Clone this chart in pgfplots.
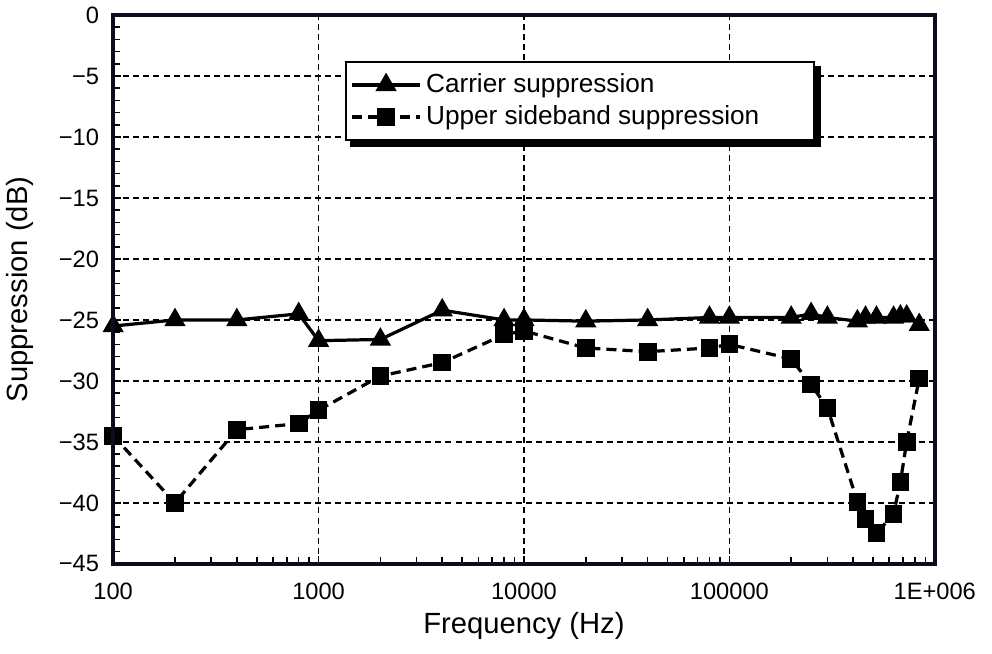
\documentclass[border=0pt]{standalone}
\usepackage{pgfplots}
\pgfplotsset{compat=1.18}
\usepackage{fontspec}
\setmainfont{Liberation Sans}
\definecolor{frame}{RGB}{12,12,28}

\begin{document}
\begin{tikzpicture}
\begin{axis}[
 name=ax,
 clip=false,
 scale only axis, width=408pt, height=272.5pt,
 xmode=log, log basis x=10,
 xmin=100, xmax=1000000, ymin=-45, ymax=0,
 xtick={100,1000,10000,100000,1000000},
 xticklabels={100,1000,10000,100000,1E+006},
 minor xtick={200,300,400,500,600,700,800,900,2000,3000,4000,5000,6000,7000,8000,9000,20000,30000,40000,50000,60000,70000,80000,90000,200000,300000,400000,500000,600000,700000,800000,900000},
 ytick={-45,-40,...,0},
 yticklabels={−45,−40,−35,−30,−25,−20,−15,−10,−5,0},
 minor y tick num=4,
 tick pos=left,
 grid=major,
 major grid style={black, line width=0.85pt, dash pattern=on 3pt off 2pt},
 tick style={black, line width=0.8pt},
 major tick length=4pt, minor tick length=3.5pt,
 tick label style={font=\fontsize{11.75}{14}\selectfont},
 xticklabel style={yshift=-6pt, inner xsep=8pt},
 yticklabel style={xshift=-3.5pt},
 xlabel={Frequency (Hz)}, ylabel={Suppression (dB)},
 label style={font=\fontsize{14.5}{17}\selectfont},
 xlabel style={at={(axis description cs:0.5,-0.114)}, anchor=center, inner ysep=6.7pt},
 ylabel style={at={(axis description cs:-0.113,0.5)}, anchor=center},
 legend style={name=leg, at={(axis description cs:0.282,0.917)}, anchor=north west,
   draw=black, line width=1.2pt, fill=white,
   font=\fontsize{13}{16}\selectfont,
   inner xsep=2pt, inner ysep=4pt, row sep=1pt},
 legend cell align=left,
 legend image code/.code={\draw[mark repeat=2,mark phase=2,#1] plot coordinates {(0cm,0cm) (0.6cm,0cm) (1.2cm,0cm)};},
]
\addplot[black, line width=1.6pt, mark=triangle*, mark size=4.5pt, mark options={solid}] coordinates {
(100,-25.5) (200,-25.0) (400,-25.0) (800,-24.5) (1000,-26.7) (2000,-26.6) (4000,-24.2) (8000,-25.0) (10000,-25.0) (20000,-25.1) (40000,-25.0) (80000,-24.8) (100000,-24.8) (200000,-24.8) (250000,-24.5) (300000,-24.8) (420000,-25.1) (460000,-24.8) (520000,-24.8) (630000,-24.8) (680000,-24.7) (730000,-24.7) (840000,-25.4)
};
\addlegendentry{Carrier suppression}
\addplot[black, line width=1.6pt, dash pattern=on 5pt off 3pt, mark=square*, mark size=3.6pt, mark options={solid}] coordinates {
(100,-34.5) (200,-40.0) (400,-34.0) (800,-33.5) (1000,-32.4) (2000,-29.6) (4000,-28.5) (8000,-26.2) (10000,-25.9) (20000,-27.3) (40000,-27.6) (80000,-27.3) (100000,-27.0) (200000,-28.2) (250000,-30.3) (300000,-32.2) (420000,-39.9) (460000,-41.3) (520000,-42.5) (630000,-40.9) (680000,-38.3) (730000,-35.0) (840000,-29.8)
};
\addlegendentry{Upper sideband suppression\hspace{23pt}\mbox{}}
\end{axis}
\fill[black] ([xshift=2.5pt,yshift=-3pt]leg.south west) rectangle ([xshift=3pt]leg.south east);
\fill[black] ([yshift=-3pt]leg.south east) rectangle ([xshift=3pt,yshift=-2.5pt]leg.north east);
\draw[frame, line width=1.8pt, line cap=rect] (ax.south west) -- (ax.north west) -- (ax.north east) -- (ax.south east) -- cycle;
\end{tikzpicture}
\end{document}
